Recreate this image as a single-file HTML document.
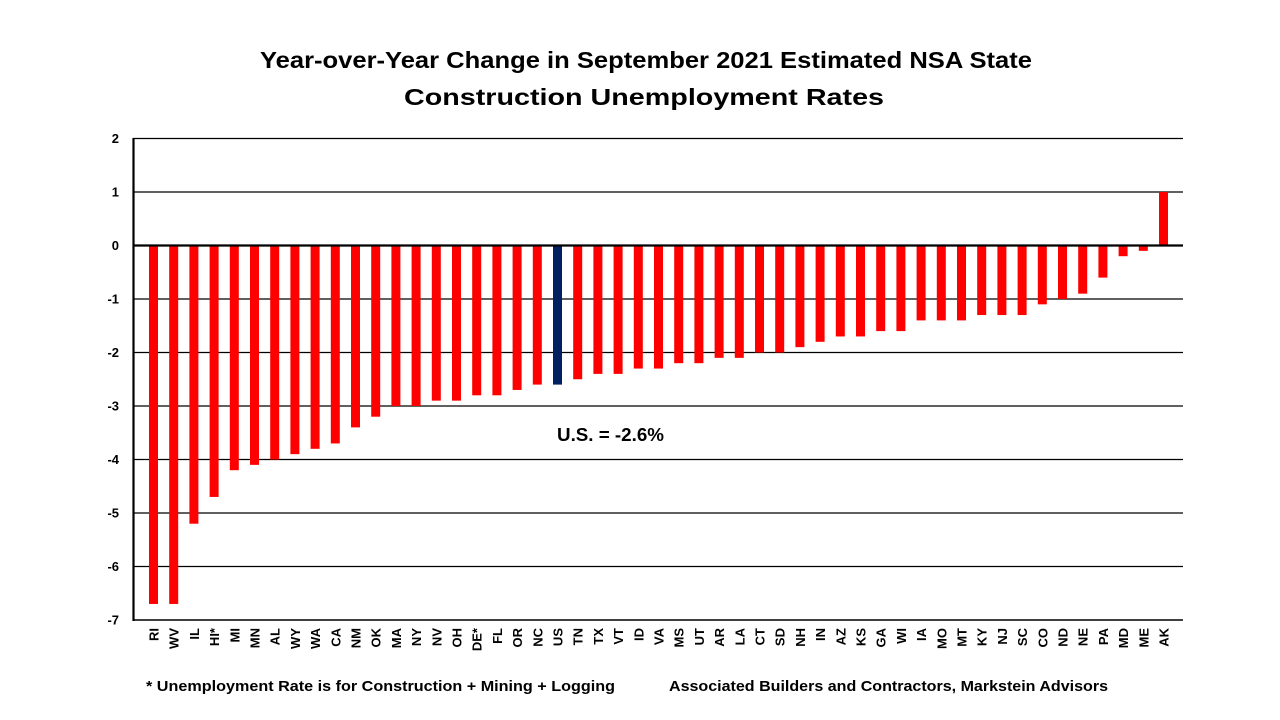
<!DOCTYPE html>
<html>
<head>
<meta charset="utf-8">
<style>
  html, body { margin: 0; padding: 0; background: #ffffff; }
  svg { display: block; }
  text { font-family: "Liberation Sans", Arial, sans-serif; font-weight: bold; fill: #000; }
</style>
</head>
<body>
<svg width="1280" height="720" viewBox="0 0 1280 720" xmlns="http://www.w3.org/2000/svg">
  <rect width="1280" height="720" fill="#ffffff"/>

  <!-- Title -->
  <text x="646" y="68" text-anchor="middle" font-size="23" textLength="772" lengthAdjust="spacingAndGlyphs">Year-over-Year Change in September 2021 Estimated NSA State</text>
  <text x="644" y="105" text-anchor="middle" font-size="23" textLength="480" lengthAdjust="spacingAndGlyphs">Construction Unemployment Rates</text>

  <!-- Gridlines -->
  <g stroke="#000" stroke-width="1.3" fill="none">
    <line x1="133" y1="138.5" x2="1183" y2="138.5"/>
    <line x1="133" y1="192" x2="1183" y2="192"/>
    <line x1="133" y1="299" x2="1183" y2="299"/>
    <line x1="133" y1="352.5" x2="1183" y2="352.5"/>
    <line x1="133" y1="406" x2="1183" y2="406"/>
    <line x1="133" y1="459.5" x2="1183" y2="459.5"/>
    <line x1="133" y1="513" x2="1183" y2="513"/>
    <line x1="133" y1="566.5" x2="1183" y2="566.5"/>
    <line x1="133" y1="620" x2="1183" y2="620" stroke-width="1.6"/>
  </g>

  <!-- Y-axis labels -->
  <g font-size="13" text-anchor="end">
    <text x="119" y="143">2</text>
    <text x="119" y="196.5">1</text>
    <text x="119" y="250">0</text>
    <text x="119" y="303.5">-1</text>
    <text x="119" y="357">-2</text>
    <text x="119" y="410.5">-3</text>
    <text x="119" y="464">-4</text>
    <text x="119" y="517.5">-5</text>
    <text x="119" y="571">-6</text>
    <text x="119" y="624.5">-7</text>
  </g>

  <!-- Bars -->
  <g fill="#ff0000">
    <rect x="149" y="245.5" width="9" height="358.45"/>
    <rect x="169.2" y="245.5" width="9" height="358.45"/>
    <rect x="189.4" y="245.5" width="9" height="278.2"/>
    <rect x="209.6" y="245.5" width="9" height="251.45"/>
    <rect x="229.8" y="245.5" width="9" height="224.7"/>
    <rect x="250" y="245.5" width="9" height="219.35"/>
    <rect x="270.2" y="245.5" width="9" height="214"/>
    <rect x="290.4" y="245.5" width="9" height="208.65"/>
    <rect x="310.6" y="245.5" width="9" height="203.3"/>
    <rect x="330.8" y="245.5" width="9" height="197.95"/>
    <rect x="351" y="245.5" width="9" height="181.9"/>
    <rect x="371.2" y="245.5" width="9" height="171.2"/>
    <rect x="391.4" y="245.5" width="9" height="160.5"/>
    <rect x="411.6" y="245.5" width="9" height="160.5"/>
    <rect x="431.8" y="245.5" width="9" height="155.15"/>
    <rect x="452" y="245.5" width="9" height="155.15"/>
    <rect x="472.2" y="245.5" width="9" height="149.8"/>
    <rect x="492.4" y="245.5" width="9" height="149.8"/>
    <rect x="512.6" y="245.5" width="9" height="144.45"/>
    <rect x="532.8" y="245.5" width="9" height="139.1"/>
    <rect x="553" y="245.5" width="9" height="139.1" fill="#002060"/>
    <rect x="573.2" y="245.5" width="9" height="133.75"/>
    <rect x="593.4" y="245.5" width="9" height="128.4"/>
    <rect x="613.6" y="245.5" width="9" height="128.4"/>
    <rect x="633.8" y="245.5" width="9" height="123.05"/>
    <rect x="654" y="245.5" width="9" height="123.05"/>
    <rect x="674.2" y="245.5" width="9" height="117.7"/>
    <rect x="694.4" y="245.5" width="9" height="117.7"/>
    <rect x="714.6" y="245.5" width="9" height="112.35"/>
    <rect x="734.8" y="245.5" width="9" height="112.35"/>
    <rect x="755" y="245.5" width="9" height="107"/>
    <rect x="775.2" y="245.5" width="9" height="107"/>
    <rect x="795.4" y="245.5" width="9" height="101.65"/>
    <rect x="815.6" y="245.5" width="9" height="96.3"/>
    <rect x="835.8" y="245.5" width="9" height="90.95"/>
    <rect x="856" y="245.5" width="9" height="90.95"/>
    <rect x="876.2" y="245.5" width="9" height="85.6"/>
    <rect x="896.4" y="245.5" width="9" height="85.6"/>
    <rect x="916.6" y="245.5" width="9" height="74.9"/>
    <rect x="936.8" y="245.5" width="9" height="74.9"/>
    <rect x="957" y="245.5" width="9" height="74.9"/>
    <rect x="977.2" y="245.5" width="9" height="69.55"/>
    <rect x="997.4" y="245.5" width="9" height="69.55"/>
    <rect x="1017.6" y="245.5" width="9" height="69.55"/>
    <rect x="1037.8" y="245.5" width="9" height="58.85"/>
    <rect x="1058" y="245.5" width="9" height="53.5"/>
    <rect x="1078.2" y="245.5" width="9" height="48.15"/>
    <rect x="1098.4" y="245.5" width="9" height="32.1"/>
    <rect x="1118.6" y="245.5" width="9" height="10.7"/>
    <rect x="1138.8" y="245.5" width="9" height="5.35"/>
    <rect x="1159" y="192" width="9" height="53.5"/>
  </g>

  <!-- Zero line and left axis -->
  <line x1="133" y1="245.5" x2="1183" y2="245.5" stroke="#000" stroke-width="2.2"/>
  <line x1="133.5" y1="138" x2="133.5" y2="621" stroke="#000" stroke-width="2.2"/>

  <!-- X-axis labels (rotated) -->
  <g font-size="13" text-anchor="end">
    <text transform="translate(158.5,628) rotate(-90)">RI</text>
    <text transform="translate(178.7,628) rotate(-90)">WV</text>
    <text transform="translate(198.9,628) rotate(-90)">IL</text>
    <text transform="translate(219.1,628) rotate(-90)">HI*</text>
    <text transform="translate(239.3,628) rotate(-90)">MI</text>
    <text transform="translate(259.5,628) rotate(-90)">MN</text>
    <text transform="translate(279.7,628) rotate(-90)">AL</text>
    <text transform="translate(299.9,628) rotate(-90)">WY</text>
    <text transform="translate(320.1,628) rotate(-90)">WA</text>
    <text transform="translate(340.3,628) rotate(-90)">CA</text>
    <text transform="translate(360.5,628) rotate(-90)">NM</text>
    <text transform="translate(380.7,628) rotate(-90)">OK</text>
    <text transform="translate(400.9,628) rotate(-90)">MA</text>
    <text transform="translate(421.1,628) rotate(-90)">NY</text>
    <text transform="translate(441.3,628) rotate(-90)">NV</text>
    <text transform="translate(461.5,628) rotate(-90)">OH</text>
    <text transform="translate(481.7,628) rotate(-90)">DE*</text>
    <text transform="translate(501.9,628) rotate(-90)">FL</text>
    <text transform="translate(522.1,628) rotate(-90)">OR</text>
    <text transform="translate(542.3,628) rotate(-90)">NC</text>
    <text transform="translate(562.5,628) rotate(-90)">US</text>
    <text transform="translate(582.7,628) rotate(-90)">TN</text>
    <text transform="translate(602.9,628) rotate(-90)">TX</text>
    <text transform="translate(623.1,628) rotate(-90)">VT</text>
    <text transform="translate(643.3,628) rotate(-90)">ID</text>
    <text transform="translate(663.5,628) rotate(-90)">VA</text>
    <text transform="translate(683.7,628) rotate(-90)">MS</text>
    <text transform="translate(703.9,628) rotate(-90)">UT</text>
    <text transform="translate(724.1,628) rotate(-90)">AR</text>
    <text transform="translate(744.3,628) rotate(-90)">LA</text>
    <text transform="translate(764.5,628) rotate(-90)">CT</text>
    <text transform="translate(784.7,628) rotate(-90)">SD</text>
    <text transform="translate(804.9,628) rotate(-90)">NH</text>
    <text transform="translate(825.1,628) rotate(-90)">IN</text>
    <text transform="translate(845.3,628) rotate(-90)">AZ</text>
    <text transform="translate(865.5,628) rotate(-90)">KS</text>
    <text transform="translate(885.7,628) rotate(-90)">GA</text>
    <text transform="translate(905.9,628) rotate(-90)">WI</text>
    <text transform="translate(926.1,628) rotate(-90)">IA</text>
    <text transform="translate(946.3,628) rotate(-90)">MO</text>
    <text transform="translate(966.5,628) rotate(-90)">MT</text>
    <text transform="translate(986.7,628) rotate(-90)">KY</text>
    <text transform="translate(1006.9,628) rotate(-90)">NJ</text>
    <text transform="translate(1027.1,628) rotate(-90)">SC</text>
    <text transform="translate(1047.3,628) rotate(-90)">CO</text>
    <text transform="translate(1067.5,628) rotate(-90)">ND</text>
    <text transform="translate(1087.7,628) rotate(-90)">NE</text>
    <text transform="translate(1107.9,628) rotate(-90)">PA</text>
    <text transform="translate(1128.1,628) rotate(-90)">MD</text>
    <text transform="translate(1148.3,628) rotate(-90)">ME</text>
    <text transform="translate(1168.5,628) rotate(-90)">AK</text>
  </g>

  <!-- Annotation -->
  <text x="557" y="441" font-size="18" textLength="107" lengthAdjust="spacingAndGlyphs">U.S. = -2.6%</text>

  <!-- Footer -->
  <text x="146" y="691" font-size="15" textLength="469" lengthAdjust="spacingAndGlyphs">* Unemployment Rate is for Construction + Mining + Logging</text>
  <text x="669" y="691" font-size="15" textLength="439" lengthAdjust="spacingAndGlyphs">Associated Builders and Contractors, Markstein Advisors</text>
</svg>
</body>
</html>
